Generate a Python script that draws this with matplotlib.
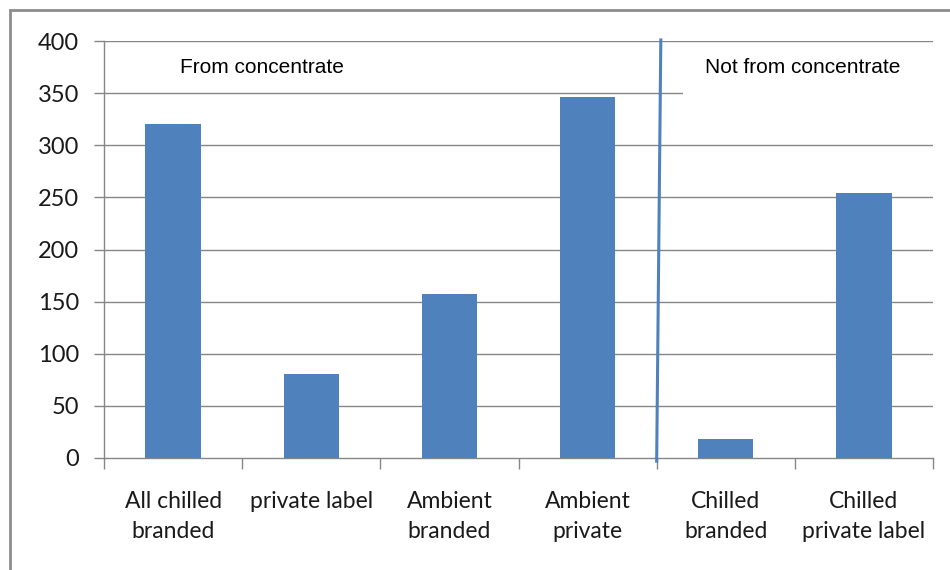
import matplotlib
matplotlib.use('Agg')
import matplotlib.pyplot as plt
from matplotlib.patches import Rectangle
import numpy as np

# Categories and values
categories = ['All chilled\nbranded', 'private label', 'Ambient\nbranded',
              'Ambient\nprivate', 'Chilled\nbranded', 'Chilled\nprivate label']
values = [320, 81, 157, 346, 18, 254]
y_ticks = [0, 50, 100, 150, 200, 250, 300, 350, 400]
group_labels = ['From concentrate', 'Not from concentrate']

bar_color = '#4F81BD'
grid_color = '#868686'

plt.rcParams['font.family'] = ['Lato', 'DejaVu Sans']

fig = plt.figure(figsize=(9.5, 5.7), dpi=100)
ax = fig.add_axes([104 / 950, 1 - 458 / 570, (933 - 104) / 950, (458 - 41) / 570])

x = np.arange(len(categories))
ax.bar(x, values, width=0.4, color=bar_color, zorder=3)

ax.set_xlim(-0.5, len(categories) - 0.5)
ax.set_ylim(0, 400)
ax.set_yticks(y_ticks)
ax.set_yticklabels([str(v) for v in y_ticks], fontsize=17, color='#1a1a1a')
ax.set_xticks(x)
ax.set_xticklabels(categories, fontsize=16.5, color='#1a1a1a', linespacing=1.5)
ax.set_xticks(np.arange(-0.5, len(categories)), minor=True)

ax.tick_params(axis='x', which='major', length=0, pad=24)
ax.tick_params(axis='x', which='minor', length=8, width=1, color=grid_color)
ax.tick_params(axis='y', length=7, width=1, color=grid_color, pad=11)

for side in ['top', 'right']:
    ax.spines[side].set_visible(False)
for side in ['left', 'bottom']:
    ax.spines[side].set_color(grid_color)
    ax.spines[side].set_linewidth(1)

for v in y_ticks[1:]:
    ax.axhline(v, color=grid_color, linewidth=1, zorder=1)

# white box behind the right-hand group label
ax.add_patch(Rectangle((3.69, 338), 1.81, 59, facecolor='white',
                       edgecolor='none', zorder=2))

# divider between the two groups
ax.plot([3.53, 3.5], [401, -3], color=bar_color, linewidth=2.2,
        zorder=4, clip_on=False)

ax.text(0.64, 375, group_labels[0], fontsize=15, ha='center', va='center',
        family=['Liberation Sans', 'DejaVu Sans'], zorder=5)
ax.text(4.56, 375, group_labels[1], fontsize=15, ha='center', va='center',
        family=['Liberation Sans', 'DejaVu Sans'], zorder=5)

# outer frame of the chart area
fig.add_artist(Rectangle((10 / 950, -0.2), 1.2, 1.2 - 10 / 570,
                         transform=fig.transFigure, fill=False,
                         edgecolor='#8c8c8c', linewidth=2))

fig.savefig('out.png', dpi=100, facecolor='white')
plt.close(fig)
